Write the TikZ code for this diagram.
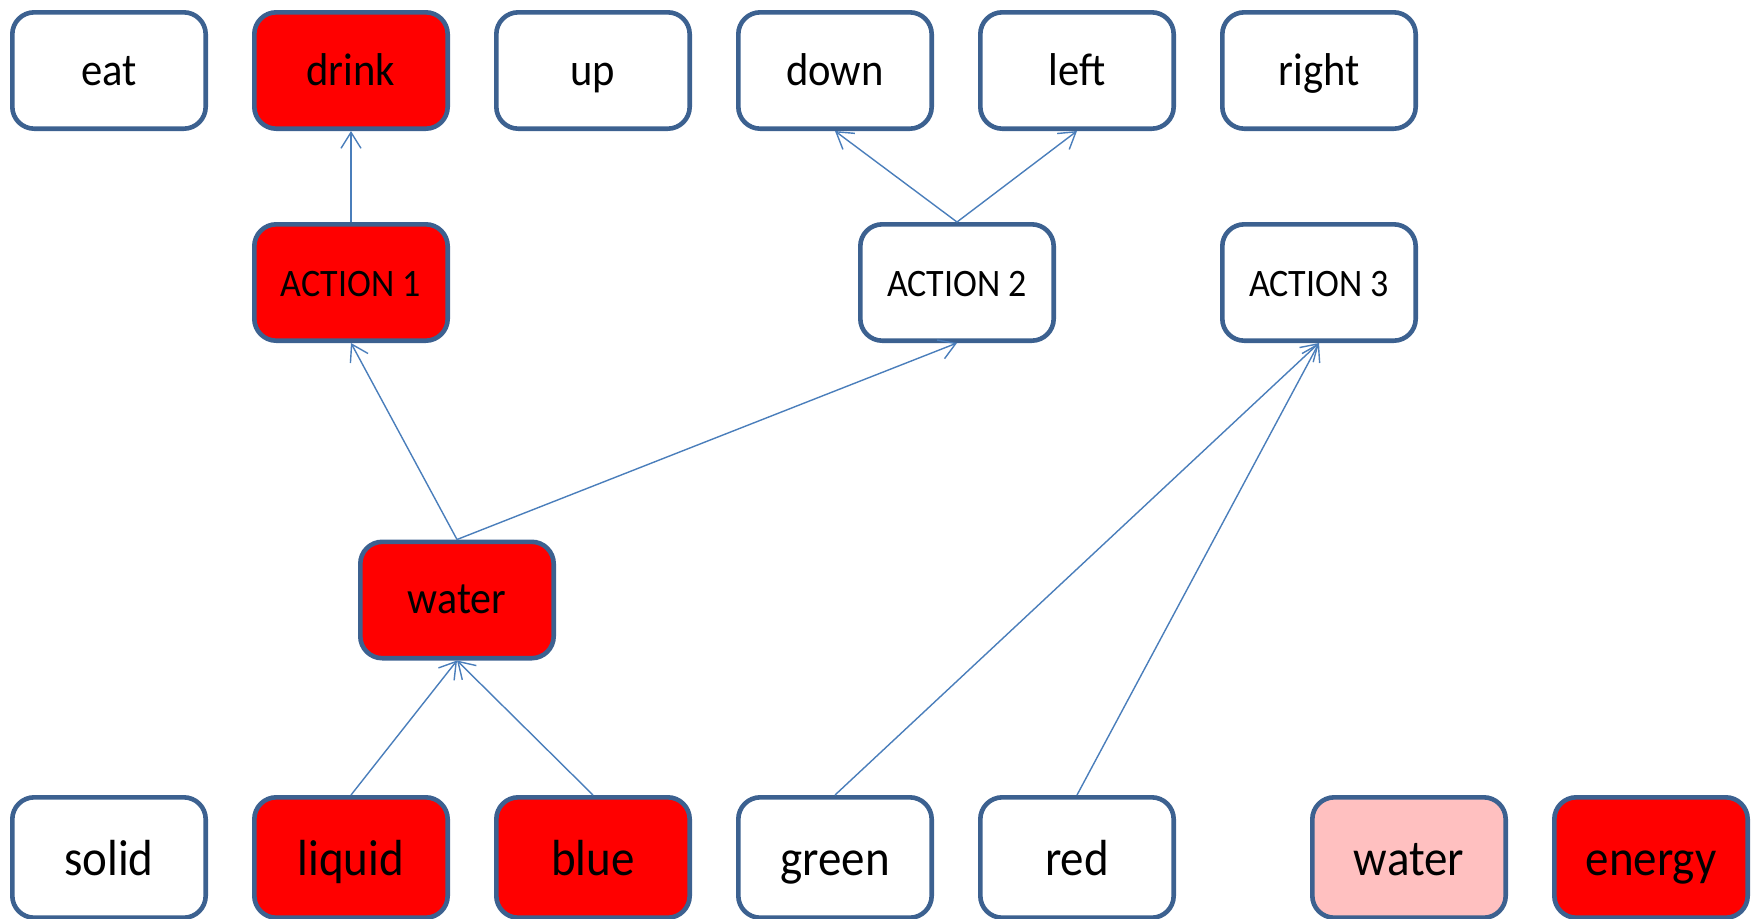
\documentclass[tikz,border=0pt]{standalone}
\usepackage{fontspec}
\setmainfont{Carlito}
\usetikzlibrary{arrows.meta}
\definecolor{boxline}{HTML}{3C6190}
\definecolor{linkblue}{HTML}{4A7EBB}
\definecolor{hot}{HTML}{FF0000}
\definecolor{warm}{HTML}{FFC0C0}
% slightly tall lettering
\newcommand{\talltext}[1]{\scalebox{1}[1.08]{#1}}
\begin{document}
\begin{tikzpicture}[x=0.5pt,y=-0.5pt,
  box/.style={draw=boxline, line width=2.3pt, rounded corners=11pt,
    minimum width=96.7pt, minimum height=58.2pt, inner sep=0pt,
    fill=white, text=black, text depth=1pt},
  toprow/.style={box, font=\fontsize{21.3pt}{25pt}\selectfont,
    text height=15.5pt},
  midbox/.style={box, font=\fontsize{21pt}{25pt}\selectfont,
    text height=14pt},
  actbox/.style={box, font=\fontsize{18pt}{22pt}\selectfont,
    text height=14.5pt},
  botrow/.style={box, font=\fontsize{23.5pt}{28pt}\selectfont,
    minimum height=60.2pt, text height=19pt},
  on/.style={fill=hot},
  half/.style={fill=warm},
  link/.style={draw=linkblue, line width=0.7pt,
    -{Straight Barb[length=8pt,width=10pt]}}]
\useasboundingbox (0,0) rectangle (1756,918);

% top row
\node[toprow]        (eat)   at (109,70.5)  {\talltext{eat}};
\node[toprow,on]     (drink) at (351,70.5)  {\talltext{drink}};
\node[toprow]        (up)    at (593,70.5)  {\talltext{up}};
\node[toprow]        (down)  at (835,70.5)  {\talltext{down}};
\node[toprow]        (left)  at (1077,70.5) {\talltext{left}};
\node[toprow]        (right) at (1319,70.5) {\talltext{right}};

% actions
\node[actbox,on] (a1) at (351,282.5)  {\talltext{ACTION 1}};
\node[actbox]    (a2) at (957,282.5)  {\talltext{ACTION 2}};
\node[actbox]    (a3) at (1319,282.5) {\talltext{ACTION 3}};

% middle
\node[midbox,on] (water) at (457,600) {\talltext{water}};

% bottom row
\node[botrow]      (solid)  at (109,857.5)  {\talltext{solid}};
\node[botrow,on]   (liquid) at (351,857.5)  {\talltext{liquid}};
\node[botrow,on]   (blue)   at (593,857.5)  {\talltext{blue}};
\node[botrow]      (green)  at (835,857.5)  {\talltext{green}};
\node[botrow]      (red)    at (1077,857.5) {\talltext{red}};
\node[botrow,half] (water2) at (1409,857.5) {\talltext{water}};
\node[botrow,on]   (energy) at (1651,857.5) {\talltext{energy}};

% links
\draw[link] (a1.north) -- (drink.south);
\draw[link] (a2.north) -- (down.south);
\draw[link] (a2.north) -- (left.south);
\draw[link] (water.north) -- (a1.south);
\draw[link] (water.north) -- (a2.south);
\draw[link] (liquid.north) -- (water.south);
\draw[link] (blue.north) -- (water.south);
\draw[link] (green.north) -- (a3.south);
\draw[link] (red.north) -- (a3.south);
\end{tikzpicture}
\end{document}
